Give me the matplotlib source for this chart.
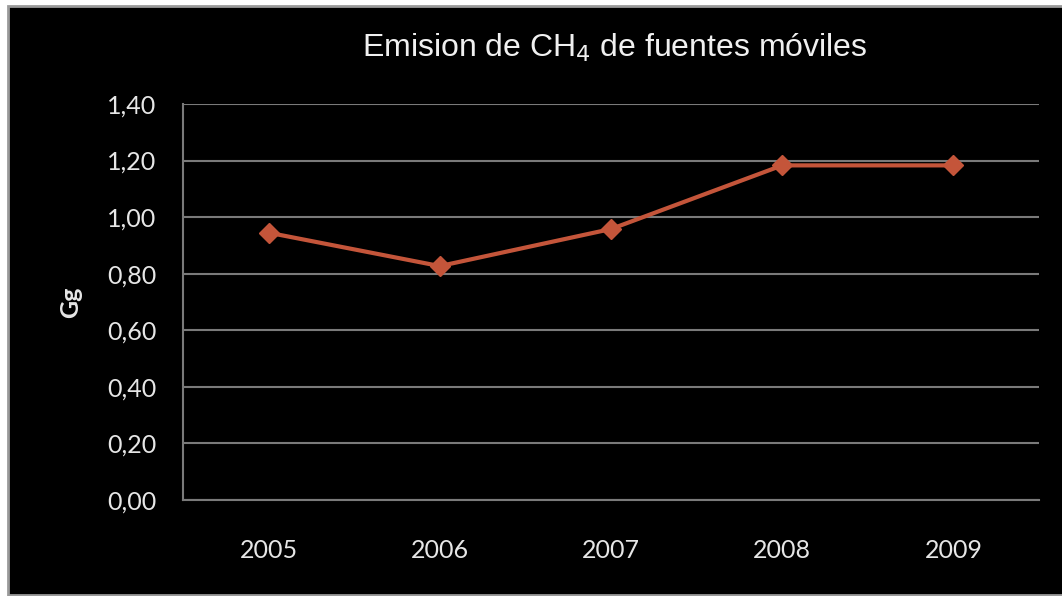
import matplotlib

matplotlib.use("Agg")
import matplotlib.pyplot as plt  # noqa: E402
from matplotlib.patches import Rectangle  # noqa: E402

years = ["2005", "2006", "2007", "2008", "2009"]
emision_gg = [0.945, 0.827, 0.958, 1.183, 1.183]
y_ticks = [0.0, 0.2, 0.4, 0.6, 0.8, 1.0, 1.2, 1.4]
y_labels = ["0,00", "0,20", "0,40", "0,60", "0,80", "1,00", "1,20", "1,40"]

W, H = 1062, 596
fig = plt.figure(figsize=(W / 100, H / 100), dpi=100, facecolor="white")

# fondo negro con marco gris (el borde derecho queda fuera de la imagen)
fig.patches.append(Rectangle((8 / W, 1 / H), 1.1, (595 - 6) / H, transform=fig.transFigure,
                             facecolor="black", edgecolor="#9a9a9a", linewidth=2, zorder=-5))

ax = fig.add_axes([183 / W, (H - 500) / H, (1039 - 183) / W, (500 - 104) / H])
ax.set_zorder(2)
ax.set_facecolor("black")
ax.patch.set_alpha(0)

xs = range(len(years))
ax.plot(xs, emision_gg, color="#C4553A", linewidth=3, marker="D", markersize=10,
        markeredgecolor="#C4553A", zorder=3)

ax.set_xlim(-0.5, len(years) - 0.5)
ax.set_ylim(0, 1.4)
ax.set_yticks(y_ticks)
ax.set_yticklabels(y_labels)
ax.set_xticks(list(xs))
ax.set_xticklabels(years)
ax.grid(True, axis="y", color="#7a7a7a", linewidth=1.5)
ax.set_axisbelow(True)

for side in ("top", "right"):
    ax.spines[side].set_visible(False)
for side in ("left", "bottom"):
    ax.spines[side].set_color("#7a7a7a")
    ax.spines[side].set_linewidth(1.5)

ax.tick_params(axis="both", length=0, colors="#e6e6e6", labelsize=18)
ax.tick_params(axis="y", pad=19)
ax.tick_params(axis="x", pad=28)
for lbl in ax.get_xticklabels() + ax.get_yticklabels():
    lbl.set_family("Lato")

ax.set_ylabel("Gg", color="#e6e6e6", fontsize=18, fontweight="bold", family="Lato", labelpad=18)

title = fig.text(615 / W, 1 - 48 / H, "Emision de CH$_4$ de fuentes móviles", ha="center",
                 va="center", color="#f0f0f0", fontsize=23, family="Liberation Sans")
title.set_zorder(3)

fig.savefig("out.png", dpi=100, facecolor=fig.get_facecolor())
